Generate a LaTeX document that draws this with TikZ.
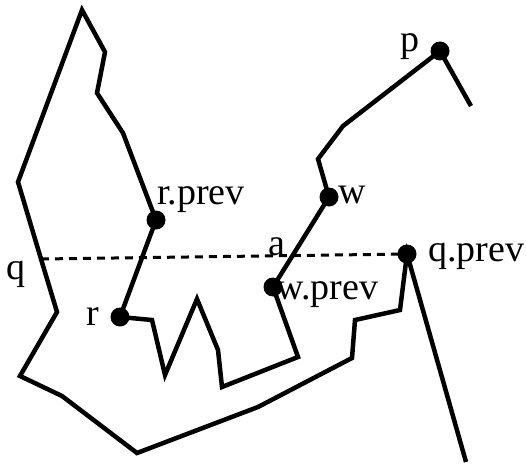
\documentclass[tikz,border=0pt]{standalone}
\usepackage{fontspec}
\setmainfont{Liberation Serif}
\tikzset{
	chain/.style={line width=4.5pt},
	scan/.style={line width=3pt, dash pattern=on 8pt off 6pt},
	dot/.style={circle, fill=black, minimum size=19pt, inner sep=0pt},
	lbl/.style={anchor=base west, inner sep=0pt, font=\fontsize{38}{40}\selectfont}
}
\begin{document}
\begin{tikzpicture}[x=1pt, y=-1pt]
	\useasboundingbox (0,0) rectangle (526,465);
	
	% the marked vertices
	\coordinate (p) at (440,51);
	\coordinate (w) at (329,197);
	\coordinate (wprev) at (273,287);
	\coordinate (r) at (120,317);
	\coordinate (rprev) at (156,220);
	\coordinate (qprev) at (407,254);
	\coordinate (q) at (41,259);
	
	% the chain
	\draw[chain] (471,106) -- (p) -- (343,126) -- (318,159) -- (w) -- (wprev)
		-- (298,357) -- (222,387) -- (218,350) -- (197,299) -- (165,375) -- (152,320)
		-- (r) -- (rprev) -- (123,133) -- (97,93) -- (105,52) -- (82,10) -- (18,182)
		-- (q) -- (57,312) -- (20,376) -- (62,396) -- (137,453) -- (258,407)
		-- (352,358) -- (355,320) -- (400,310) -- (qprev) -- (466,462);
	
	% scan line through q
	\draw[scan] (q) -- (qprev);
	
	\node[dot] (dp) at (p) {};
	\node[dot] (dw) at (w) {};
	\node[dot] (dwprev) at (wprev) {};
	\node[dot] (dr) at (r) {};
	\node[dot] (drprev) at (rprev) {};
	\node[dot] (dqprev) at (qprev) {};
	
	\node[lbl] (lp) at (400,52) {p};
	\node[lbl] (lq) at (6,279) {q};
	\node[lbl] (lr) at (86,325) {r};
	\node[lbl] (lrprev) at (157,204) {r.prev};
	\node[lbl] (lw) at (338,203) {w};
	\node[lbl] (la) at (268,255) {a};
	\node[lbl] (lwprev) at (276,299) {w.prev};
	\node[lbl] (lqprev) at (428,261) {q.prev};
\end{tikzpicture}
\end{document}
